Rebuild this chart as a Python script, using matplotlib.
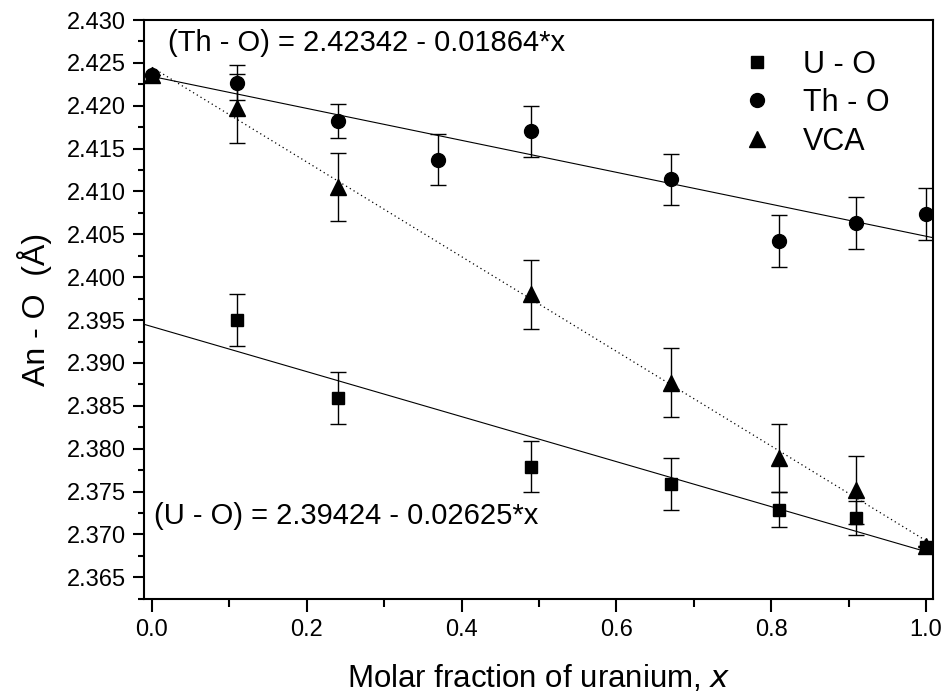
import numpy as np
import matplotlib
matplotlib.use("Agg")
import matplotlib.pyplot as plt
from matplotlib.ticker import MultipleLocator, FormatStrFormatter

plt.rcParams['font.family'] = ['Liberation Sans', 'DejaVu Sans']

# data
x_th = [0.0, 0.11, 0.24, 0.37, 0.49, 0.67, 0.81, 0.91, 1.0]
th_o = [2.4236, 2.4227, 2.4182, 2.4137, 2.4170, 2.4114, 2.4042, 2.4063, 2.4074]
th_err = [0.0, 0.0020, 0.0020, 0.0030, 0.0030, 0.0030, 0.0030, 0.0030, 0.0030]

x_u = [0.11, 0.24, 0.49, 0.67, 0.81, 0.91, 1.0]
u_o = [2.3950, 2.3859, 2.3779, 2.3759, 2.3729, 2.3719, 2.3685]
u_err = [0.0030, 0.0030, 0.0030, 0.0030, 0.0020, 0.0020, 0.0]

x_vca = [0.0, 0.11, 0.24, 0.49, 0.67, 0.81, 0.91, 1.0]
vca = [2.4236, 2.4197, 2.4105, 2.3980, 2.3877, 2.3789, 2.3752, 2.3687]
vca_err = [0.0, 0.0040, 0.0040, 0.0040, 0.0040, 0.0040, 0.0040, 0.0]

# linear fits quoted in the figure
th_fit = (2.42342, -0.01864)
u_fit = (2.39424, -0.02625)

xmin, xmax = -0.0103, 1.009
ymin, ymax = 2.36247, 2.430

fig, ax = plt.subplots(figsize=(9.48, 7.0), dpi=100)
fig.subplots_adjust(left=0.1519, right=0.9842, top=0.9714, bottom=0.1443)

# fit lines
xl = np.array([xmin, xmax])
ax.plot(xl, th_fit[0] + th_fit[1] * xl, color='black', lw=0.8, zorder=1)
ax.plot(xl, u_fit[0] + u_fit[1] * xl, color='black', lw=0.8, zorder=1)
p = np.polyfit(x_vca, vca, 1)
xv = np.array([0.0, 1.0])
ax.plot(xv, np.polyval(p, xv), color='black', lw=0.9, ls=(0, (1, 2.5)), zorder=1)

# error bars
for xs, ys, es in [(x_u, u_o, u_err), (x_th, th_o, th_err), (x_vca, vca, vca_err)]:
    ax.errorbar(xs, ys, yerr=es, fmt='none', ecolor='black', elinewidth=1.0,
                capsize=5.5, capthick=1.0, zorder=2)

ax.plot(x_u, u_o, 's', color='black', ms=8.5, label='U - O', zorder=3)
ax.plot(x_th, th_o, 'o', color='black', ms=10, label='Th - O', zorder=3)
ax.plot(x_vca, vca, '^', color='black', ms=11, label='VCA', zorder=3)

ax.text(0.021, 2.4273, '(Th - O) = 2.42342 - 0.01864*x', fontsize=21,
        ha='left', va='center')
ax.text(0.003, 2.3722, '(U - O) = 2.39424 - 0.02625*x', fontsize=21,
        ha='left', va='center')

leg = ax.legend(loc='upper left', bbox_to_anchor=(0.742, 0.97), frameon=False,
                fontsize=22, numpoints=1, handlelength=1.0, handletextpad=1.0,
                labelspacing=0.28, borderaxespad=0)

ax.set_xlim(xmin, xmax)
ax.set_ylim(ymin, ymax)
ax.xaxis.set_major_locator(MultipleLocator(0.2))
ax.xaxis.set_minor_locator(MultipleLocator(0.1))
ax.yaxis.set_major_locator(MultipleLocator(0.005))
ax.yaxis.set_minor_locator(MultipleLocator(0.0025))
ax.xaxis.set_major_formatter(FormatStrFormatter('%.1f'))
ax.yaxis.set_major_formatter(FormatStrFormatter('%.3f'))

for s in ax.spines.values():
    s.set_linewidth(1.5)
ax.tick_params(which='both', direction='out', width=1.5, labelsize=17,
               top=False, right=False)
ax.tick_params(axis='x', which='major', length=9.4, pad=5)
ax.tick_params(axis='x', which='minor', length=5.5)
ax.tick_params(axis='y', which='major', length=7.7, pad=5)
ax.tick_params(axis='y', which='minor', length=4.3)

ax.set_xlabel('Molar fraction of uranium, $\\mathit{x}$', fontsize=22.5)
ax.set_ylabel('An - O  (Å)', fontsize=23)
ax.xaxis.set_label_coords(0.5, -0.11)
ax.yaxis.set_label_coords(-0.117, 0.5)

fig.savefig('out.png', dpi=100)
